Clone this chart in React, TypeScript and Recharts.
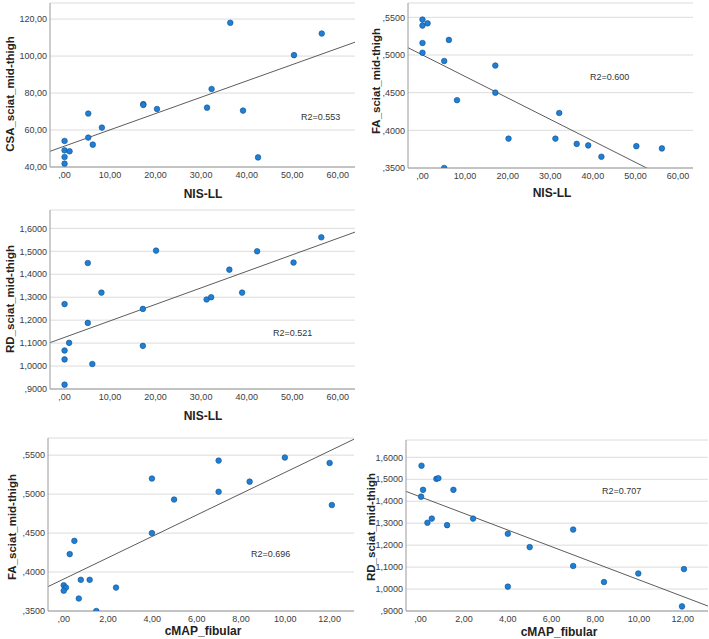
import React from 'react';
import { ScatterChart, Scatter, XAxis, YAxis, CartesianGrid, ReferenceLine } from 'recharts';

// ---------- data ----------
// Panel 1: CSA_sciat_mid-thigh vs NIS-LL
const p1NisLL = [0, 0, 1.1, 0, 0, 5.2, 5.2, 6.2, 8.2, 17.3, 17.3, 20.3, 31.3, 32.3, 36.4, 39.2, 42.5, 50.4, 56.5];
const p1Csa = [54.1, 49.0, 48.5, 45.4, 41.8, 68.9, 55.9, 52.1, 61.3, 74.0, 73.6, 71.4, 72.1, 82.2, 118.0, 70.5, 45.2, 100.5, 112.2];
const p1Fit = [51.3, 0.881]; // intercept, slope
// Panel 2: FA_sciat_mid-thigh vs NIS-LL
const p2NisLL = [0, 0, 1.2, 0, 0, 6.2, 5.1, 5.1, 8.1, 17.1, 17.1, 20.2, 31.2, 32.1, 36.2, 38.9, 42.0, 50.2, 56.2];
const p2Fa = [0.547, 0.539, 0.542, 0.516, 0.503, 0.52, 0.492, 0.35, 0.44, 0.486, 0.45, 0.389, 0.389, 0.423, 0.382, 0.38, 0.365, 0.379, 0.376];
const p2Fit = [0.5, -0.00285];
// Panel 3: RD_sciat_mid-thigh vs NIS-LL
const p3NisLL = [0, 0, 0, 0, 1.0, 5.1, 5.1, 6.1, 8.1, 17.2, 17.2, 20.1, 31.2, 32.2, 36.2, 39.0, 42.3, 50.3, 56.4];
const p3Rd = [1.27, 1.068, 1.029, 0.919, 1.101, 1.449, 1.188, 1.009, 1.32, 1.249, 1.088, 1.503, 1.29, 1.3, 1.42, 1.32, 1.5, 1.451, 1.561];
const p3Fit = [1.125, 0.00719];
// Panel 4: FA_sciat_mid-thigh vs cMAP_fibular
const p4Cmap = [0, 0.1, 0, 0.27, 0.48, 0.77, 0.68, 1.17, 1.47, 2.36, 3.98, 3.98, 4.98, 6.99, 6.99, 8.39, 9.98, 12.0, 12.1];
const p4Fa = [0.383, 0.38, 0.376, 0.423, 0.44, 0.39, 0.366, 0.39, 0.35, 0.38, 0.52, 0.45, 0.493, 0.543, 0.503, 0.516, 0.547, 0.54, 0.486];
const p4Fit = [0.391, 0.0137];
// Panel 5: RD_sciat_mid-thigh vs cMAP_fibular
const p5Cmap = [0.05, 0.12, 0.03, 0.32, 0.52, 0.73, 0.82, 1.22, 1.51, 2.41, 4.0, 4.0, 5.0, 6.99, 6.99, 8.4, 9.97, 12.06, 11.97];
const p5Rd = [1.562, 1.452, 1.421, 1.302, 1.321, 1.502, 1.505, 1.291, 1.452, 1.321, 1.252, 1.011, 1.191, 1.271, 1.105, 1.032, 1.071, 1.091, 0.921];
const p5Fit = [1.42, -0.0378];

const nisTicks = [0, 10, 20, 30, 40, 50, 60];
const cmapTicks = [0, 2, 4, 6, 8, 10, 12];
const csaTicks = [40, 60, 80, 100, 120];
const faTicks = [0.35, 0.4, 0.45, 0.5, 0.55];
const rdTicks = [0.9, 1.0, 1.1, 1.2, 1.3, 1.4, 1.5, 1.6];

const r2Labels = ['R2=0.553', 'R2=0.600', 'R2=0.521', 'R2=0.696', 'R2=0.707'];

// ---------- helpers ----------
const FONT = '"Liberation Sans", Arial, sans-serif';
const fmt = (d: number) => (v: number) => {
  let s = Math.abs(v).toFixed(d).replace('.', ',');
  if (s.startsWith('0,')) s = s.slice(1);
  return (v < 0 ? '-' : '') + s;
};

type Rect = { l: number; t: number; r: number; b: number };

type PanelProps = {
  xs: number[];
  ys: number[];
  fit: number[];
  xDomain: [number, number];
  yDomain: [number, number];
  xTicks: number[];
  yTicks: number[];
  xDec: number;
  yDec: number;
  rect: Rect;
  xTitle: string;
  yTitle: string;
  xTitlePos: [number, number];
  yTitlePos: [number, number];
  r2: string;
  r2Pos: [number, number];
};

const Dot = (p: any) => (
  <circle cx={p.cx} cy={p.cy} r={2.8} fill="#1f7fd6" stroke="#0f4f8c" strokeWidth={0.6} />
);

const Panel = (p: PanelProps) => {
  const YW = 50;
  const XH = 30;
  const MT = 2;
  const MR = 2;
  const pw = p.rect.r - p.rect.l;
  const ph = p.rect.b - p.rect.t;
  const W = pw + YW + MR;
  const H = ph + MT + XH;
  const data = p.xs.map((x, i) => ({ x, y: p.ys[i] }));
  const [a, b] = p.fit;
  const seg = [
    { x: p.xDomain[0], y: a + b * p.xDomain[0] },
    { x: p.xDomain[1], y: a + b * p.xDomain[1] },
  ];
  const tickStyle = { fontSize: 9, fill: '#3c3c3c', fontFamily: FONT };
  return (
    <>
      <div style={{ position: 'absolute', left: p.rect.l - YW, top: p.rect.t - MT }}>
        <ScatterChart width={W} height={H} margin={{ top: MT, right: MR, left: 0, bottom: 0 }}>
          <CartesianGrid vertical={false} stroke="#dcdcdc" strokeWidth={1} />
          <XAxis
            type="number"
            dataKey="x"
            domain={p.xDomain}
            ticks={p.xTicks}
            allowDataOverflow
            height={XH}
            tickFormatter={fmt(2)}
            tickLine={false}
            tickSize={0}
            tickMargin={5}
            axisLine={{ stroke: '#9a9a9a' }}
            tick={tickStyle}
            interval={0}
          />
          <YAxis
            type="number"
            dataKey="y"
            domain={p.yDomain}
            ticks={p.yTicks}
            allowDataOverflow
            width={YW}
            tickFormatter={fmt(p.yDec)}
            tickLine={false}
            tickSize={0}
            tickMargin={3}
            axisLine={{ stroke: '#9a9a9a' }}
            tick={tickStyle}
            interval={0}
          />
          <ReferenceLine segment={seg} stroke="#4a4a4a" strokeWidth={0.9} ifOverflow="hidden" />
          <Scatter data={data} shape={Dot} isAnimationActive={false} />
        </ScatterChart>
      </div>
      <div
        style={{
          position: 'absolute',
          left: p.xTitlePos[0],
          top: p.xTitlePos[1],
          transform: 'translate(-50%, -50%)',
          fontWeight: 'bold',
          fontSize: 12,
          color: '#222',
          whiteSpace: 'nowrap',
        }}
      >
        {p.xTitle}
      </div>
      <div
        style={{
          position: 'absolute',
          left: p.yTitlePos[0],
          top: p.yTitlePos[1],
          transform: 'translate(-50%, -50%) rotate(-90deg)',
          fontWeight: 'bold',
          fontSize: 11.5,
          color: '#222',
          whiteSpace: 'nowrap',
        }}
      >
        {p.yTitle}
      </div>
      <div
        style={{
          position: 'absolute',
          left: p.r2Pos[0],
          top: p.r2Pos[1],
          transform: 'translateY(-50%)',
          fontSize: 9,
          color: '#333',
          whiteSpace: 'nowrap',
        }}
      >
        {p.r2}
      </div>
    </>
  );
};

export default function App() {
  return (
    <div
      style={{
        position: 'absolute',
        left: 0,
        top: 0,
        width: 709,
        height: 639,
        background: '#fff',
        fontFamily: FONT,
        overflow: 'hidden',
      }}
    >
      <Panel
        xs={p1NisLL}
        ys={p1Csa}
        fit={p1Fit}
        xDomain={[-3.2, 63.8]}
        yDomain={[40, 128.7]}
        xTicks={nisTicks}
        yTicks={csaTicks}
        xDec={2}
        yDec={2}
        rect={{ l: 50, t: 3, r: 355, b: 167 }}
        xTitle="NIS-LL"
        yTitle="CSA_sciat_mid-thigh"
        xTitlePos={[203, 194]}
        yTitlePos={[10, 94]}
        r2={r2Labels[0]}
        r2Pos={[301, 117]}
      />
      <Panel
        xs={p2NisLL}
        ys={p2Fa}
        fit={p2Fit}
        xDomain={[-3.4, 63.5]}
        yDomain={[0.35, 0.569]}
        xTicks={nisTicks}
        yTicks={faTicks}
        xDec={2}
        yDec={4}
        rect={{ l: 408, t: 3, r: 693, b: 168 }}
        xTitle="NIS-LL"
        yTitle="FA_sciat_mid-thigh"
        xTitlePos={[552, 193]}
        yTitlePos={[376, 81]}
        r2={r2Labels[1]}
        r2Pos={[590, 77]}
      />
      <Panel
        xs={p3NisLL}
        ys={p3Rd}
        fit={p3Fit}
        xDomain={[-3.2, 63.8]}
        yDomain={[0.9, 1.68]}
        xTicks={nisTicks}
        yTicks={rdTicks}
        xDec={2}
        yDec={4}
        rect={{ l: 50, t: 210, r: 355, b: 389 }}
        xTitle="NIS-LL"
        yTitle="RD_sciat_mid-thigh"
        xTitlePos={[203, 416]}
        yTitlePos={[10, 299]}
        r2={r2Labels[2]}
        r2Pos={[273, 333]}
      />
      <Panel
        xs={p4Cmap}
        ys={p4Fa}
        fit={p4Fit}
        xDomain={[-0.71, 13.1]}
        yDomain={[0.35, 0.572]}
        xTicks={cmapTicks}
        yTicks={faTicks}
        xDec={2}
        yDec={4}
        rect={{ l: 48, t: 438, r: 354, b: 611 }}
        xTitle="cMAP_fibular"
        yTitle="FA_sciat_mid-thigh"
        xTitlePos={[203, 631]}
        yTitlePos={[12, 527]}
        r2={r2Labels[3]}
        r2Pos={[251, 554]}
      />
      <Panel
        xs={p5Cmap}
        ys={p5Rd}
        fit={p5Fit}
        xDomain={[-0.66, 13.16]}
        yDomain={[0.9, 1.679]}
        xTicks={cmapTicks}
        yTicks={rdTicks}
        xDec={2}
        yDec={4}
        rect={{ l: 406, t: 440, r: 708, b: 611 }}
        xTitle="cMAP_fibular"
        yTitle="RD_sciat_mid-thigh"
        xTitlePos={[559, 632]}
        yTitlePos={[371, 527]}
        r2={r2Labels[4]}
        r2Pos={[602, 491]}
      />
    </div>
  );
}
